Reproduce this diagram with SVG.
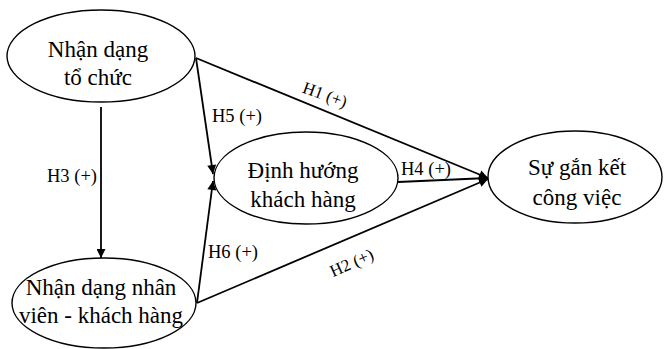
<svg xmlns="http://www.w3.org/2000/svg" width="665" height="349" viewBox="0 0 665 349">
<defs>
<style>
.node ellipse{fill:#fff;stroke:#000;stroke-width:1.4}
.node text{font-size:23px;fill:#000;text-anchor:middle}
.edges line{stroke:#000;stroke-width:1.8;fill:none}
.lbl{font-size:18.5px;fill:#000}
.rl{font-size:17px;text-anchor:middle}
</style>
<marker id="arr" viewBox="0 0 10 10" refX="10" refY="5" markerWidth="10" markerHeight="9" markerUnits="userSpaceOnUse" orient="auto">
<path d="M0,0 L10,5 L0,10 z" fill="#000"/>
</marker>
</defs>
<rect width="665" height="349" fill="#fff"/>
<g id="edges" class="edges">
<line x1="101" y1="107" x2="101" y2="258" marker-end="url(#arr)"/>
<line x1="196" y1="58" x2="213" y2="174" marker-end="url(#arr)"/>
<line x1="197" y1="303" x2="213" y2="181" marker-end="url(#arr)"/>
<line x1="196" y1="58" x2="488" y2="178" marker-end="url(#arr)"/>
<line x1="197" y1="303" x2="488" y2="179" marker-end="url(#arr)"/>
<line x1="398" y1="182" x2="488" y2="178" marker-end="url(#arr)"/>
</g>
<g font-family="'Liberation Serif', 'DejaVu Serif', serif">
<g id="edge-labels">
<text class="lbl" x="47" y="182">H3 (+)</text>
<text class="lbl" x="212" y="122">H5 (+)</text>
<text class="lbl" x="208" y="258">H6 (+)</text>
<text class="lbl" x="401" y="175">H4 (+)</text>
<text class="lbl rl" x="323" y="100" transform="rotate(20 323 100)">H1 (+)</text>
<text class="lbl rl" x="354" y="268" transform="rotate(-24 354 268)">H2 (+)</text>
</g>
<g id="n1" class="node">
<ellipse cx="101" cy="56" rx="94" ry="46"/>
<text x="98" y="57">Nhận dạng</text>
<text x="98" y="85">tổ chức</text>
</g>
<g id="n2" class="node">
<ellipse cx="104" cy="303" rx="92" ry="45"/>
<text x="101" y="295">Nhận dạng nhân</text>
<text x="101" y="323">viên - khách hàng</text>
</g>
<g id="n3" class="node">
<ellipse cx="306" cy="178" rx="92" ry="46"/>
<text x="303" y="178">Định hướng</text>
<text x="303" y="207">khách hàng</text>
</g>
<g id="n4" class="node">
<ellipse cx="575" cy="177" rx="87" ry="46"/>
<text x="577" y="175">Sự gắn kết</text>
<text x="577" y="205">công việc</text>
</g>
</g>
</svg>
